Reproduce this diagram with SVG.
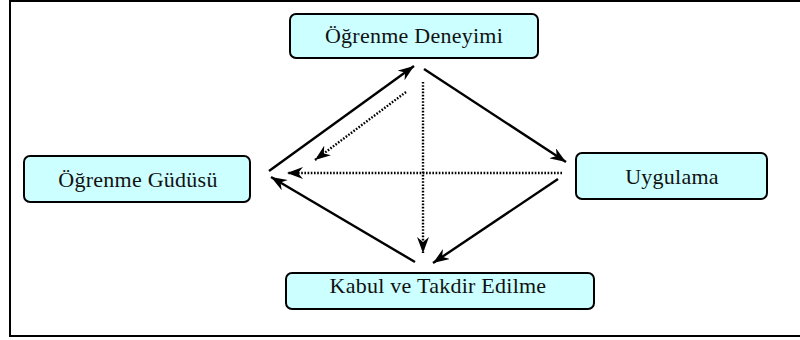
<svg xmlns="http://www.w3.org/2000/svg" width="800" height="340" viewBox="0 0 800 340">
<style>
.box{fill:#CCFFFF;stroke:#000;stroke-width:2}
.lbl{font-family:"Liberation Serif","Times New Roman",serif;font-size:22px;fill:#111;text-anchor:middle;letter-spacing:0.25px}
.solid{stroke:#000;stroke-width:2.4;fill:none}
.dot{stroke:#000;stroke-width:2.4;fill:none;stroke-dasharray:1.6 1.6}
</style>
<defs>
<marker id="ah" viewBox="0 0 16 12" refX="16" refY="6" markerWidth="16" markerHeight="12" markerUnits="userSpaceOnUse" orient="auto">
<path d="M0,0 L16,6 L0,12 L5,6 Z" fill="#000"/>
</marker>
</defs>
<rect x="10" y="1" width="800" height="335" fill="#fff" stroke="#000" stroke-width="2"/>
<g id="connectors">
<line class="solid" x1="269" y1="171" x2="414" y2="66" marker-end="url(#ah)"/>
<line class="solid" x1="424" y1="69" x2="566" y2="162" marker-end="url(#ah)"/>
<line class="solid" x1="558" y1="179" x2="433" y2="263" marker-end="url(#ah)"/>
<line class="solid" x1="415" y1="262" x2="271" y2="177" marker-end="url(#ah)"/>
<line class="dot" x1="406" y1="92" x2="315" y2="160" marker-end="url(#ah)"/>
<line class="dot" x1="423" y1="82" x2="423" y2="253" marker-end="url(#ah)"/>
<line class="dot" x1="562" y1="173" x2="287" y2="173" marker-end="url(#ah)"/>
</g>
<g id="node-deneyim">
<rect class="box" x="290" y="14" width="248" height="44" rx="6"/>
<text class="lbl" x="414" y="43">Öğrenme Deneyimi</text>
</g>
<g id="node-gudu">
<rect class="box" x="24" y="156" width="226" height="46" rx="6"/>
<text class="lbl" x="138" y="187">Öğrenme Güdüsü</text>
</g>
<g id="node-uygulama">
<rect class="box" x="576" y="153" width="191" height="46" rx="6"/>
<text class="lbl" x="672" y="184">Uygulama</text>
</g>
<g id="node-kabul">
<rect class="box" x="286" y="273" width="308" height="36" rx="6"/>
<text class="lbl" x="438" y="293">Kabul ve Takdir Edilme</text>
</g>
</svg>
